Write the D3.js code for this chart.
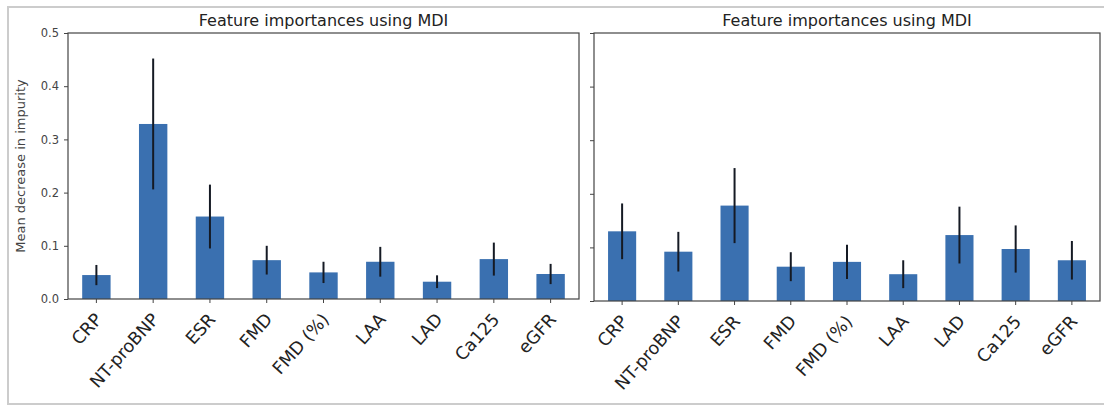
<!DOCTYPE html>
<html>
<head>
<meta charset="utf-8">
<script src="https://cdn.jsdelivr.net/npm/d3@7"></script>
<style>
  html, body { margin: 0; padding: 0; background: #fff; }
  svg { display: block; font-family: "DejaVu Sans", sans-serif; }
</style>
</head>
<body>
<svg id="chart" width="1104" height="406"></svg>
<script>
// Features shown on both panels
const features = ["CRP", "NT-proBNP", "ESR", "FMD", "FMD (%)", "LAA", "LAD", "Ca125", "eGFR"];

// Left model: mean decrease in impurity and its standard deviation
const importancesA = [0.045, 0.329, 0.155, 0.073, 0.050, 0.070, 0.0325, 0.075, 0.047];
const errorsA      = [0.019, 0.123, 0.060, 0.027, 0.020, 0.028, 0.012, 0.031, 0.019];

// Right model
const importancesB = [0.130, 0.092, 0.178, 0.064, 0.073, 0.050, 0.123, 0.097, 0.076];
const errorsB      = [0.052, 0.037, 0.070, 0.027, 0.032, 0.026, 0.053, 0.044, 0.036];

const yTicks = [0.0, 0.1, 0.2, 0.3, 0.4, 0.5];
const panelTitle = "Feature importances using MDI";
const yLabel = "Mean decrease in impurity";

const svg = d3.select("#chart");

// light frame around the figure
svg.append("rect")
  .attr("x", 8).attr("y", 7)
  .attr("width", 1110).attr("height", 397)
  .attr("fill", "none")
  .attr("stroke", "#cccccc")
  .attr("stroke-width", 2);

const panels = [
  { left: 68, right: 579, top: 33, bottom: 299, values: importancesA, errors: errorsA, showY: true },
  { left: 594, right: 1100, top: 33, bottom: 301, values: importancesB, errors: errorsB, showY: false }
];

const barColor = "#3a70b0";

panels.forEach(p => {
  const x = d3.scaleBand()
    .domain(features)
    .range([p.left, p.right])
    .paddingInner(0.5)
    .paddingOuter(0.25);
  const y = d3.scaleLinear().domain([0, 0.5]).range([p.bottom, p.top]);

  const g = svg.append("g");

  // bars
  g.selectAll("rect.bar")
    .data(features)
    .join("rect")
    .attr("class", "bar")
    .attr("x", d => x(d))
    .attr("width", x.bandwidth())
    .attr("y", (d, i) => y(p.values[i]))
    .attr("height", (d, i) => y(0) - y(p.values[i]))
    .attr("fill", barColor);

  // error bars (± one standard deviation)
  g.selectAll("line.err")
    .data(features)
    .join("line")
    .attr("class", "err")
    .attr("x1", d => x(d) + x.bandwidth() / 2)
    .attr("x2", d => x(d) + x.bandwidth() / 2)
    .attr("y1", (d, i) => y(p.values[i] + p.errors[i]))
    .attr("y2", (d, i) => y(Math.max(0, p.values[i] - p.errors[i])))
    .attr("stroke", "#151a24")
    .attr("stroke-width", 2);

  // y axis
  const yAxis = d3.axisLeft(y)
    .tickValues(yTicks)
    .tickSize(4)
    .tickPadding(5)
    .tickFormat(p.showY ? d3.format(".1f") : "");
  const ya = g.append("g")
    .attr("transform", `translate(${p.left},0)`)
    .call(yAxis);
  ya.select(".domain").remove();
  ya.selectAll("line").attr("stroke", "#444");
  ya.selectAll("text").attr("font-size", 11.5).attr("fill", "#444").attr("font-family", "DejaVu Sans");

  // x axis with rotated feature names
  const xAxis = d3.axisBottom(x).tickSize(4).tickPadding(0);
  const xa = g.append("g")
    .attr("transform", `translate(0,${p.bottom})`)
    .call(xAxis);
  xa.select(".domain").remove();
  xa.selectAll("line").attr("stroke", "#444");
  xa.selectAll("text")
    .attr("font-size", 17.5)
    .attr("fill", "#222")
    .attr("font-family", "DejaVu Sans")
    .attr("text-anchor", "end")
    .attr("dy", "0.35em")
    .attr("transform", "translate(2,17) rotate(-48)")
    .attr("y", 0);

  // axes frame
  g.append("rect")
    .attr("x", p.left).attr("y", p.top)
    .attr("width", p.right - p.left)
    .attr("height", p.bottom - p.top)
    .attr("fill", "none")
    .attr("stroke", "#444")
    .attr("stroke-width", 1.2);

  // panel title
  g.append("text")
    .attr("x", (p.left + p.right) / 2)
    .attr("y", 26)
    .attr("text-anchor", "middle")
    .attr("font-size", 16)
    .attr("fill", "#222")
    .text(panelTitle);

  if (p.showY) {
    g.append("text")
      .attr("transform", `translate(25,${(p.top + p.bottom) / 2}) rotate(-90)`)
      .attr("text-anchor", "middle")
      .attr("font-size", 13)
      .attr("fill", "#444")
      .text(yLabel);
  }
});
</script>
</body>
</html>
